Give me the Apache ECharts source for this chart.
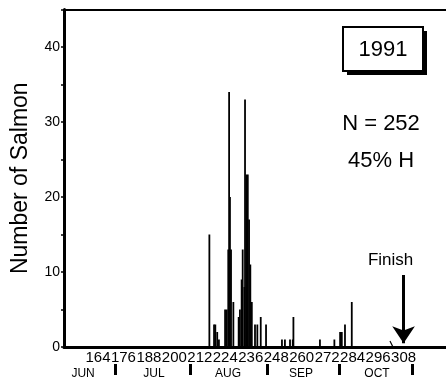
<!DOCTYPE html>
<html>
<head>
<meta charset="utf-8">
<script src="https://cdn.jsdelivr.net/npm/echarts@6/dist/echarts.min.js"></script>
<style>html,body{margin:0;padding:0;background:#fff}#c{width:446px;height:388px}</style>
</head>
<body>
<div id="c"></div>
<script>
// Day of year of each recorded pulse and number of salmon
const days = [216.5, 218.7, 219.3, 220.2, 221.0, 223.9, 224.7, 225.4, 225.8, 226.2, 226.7, 227.8, 230.3, 230.9, 231.7, 232.2, 233.0, 233.3, 233.9, 234.6, 235.2, 235.8, 236.5, 238.0, 239.1, 240.7, 243.2, 250.7, 252.1, 254.5, 255.8, 256.1, 268.6, 275.4, 278.1, 278.9, 280.4, 283.6];
const counts = [15, 3, 3, 2, 1, 5, 5, 13, 34, 20, 13, 6, 4, 5, 9, 13, 8, 33, 23, 23, 17, 11, 6, 3, 3, 4, 3, 1, 1, 1, 1, 4, 1, 1, 2, 2, 3, 6];
// small trailing trace near the finish
const tailDays = [301.6, 303.0];
const tailCounts = [0.8, 0];
// axis labels
const dayTicks = [164, 176, 188, 200, 212, 224, 236, 248, 260, 272, 284, 296, 308];
const monthNames = ['JUN', 'JUL', 'AUG', 'SEP', 'OCT'];
const monthLabelDays = [157, 190.4, 225.3, 259.7, 295.5];
const monthMarkDays = [172.0, 207.4, 243.7, 277.6, 312.0];
const yTicks = [0, 10, 20, 30, 40];
const finishDay = 308;
const finishTop = 9.6;
const finishBottom = 0.5;
const yearLabel = '1991';
const nLabel = 'N = 252';
const hLabel = '45% H';

const XMIN = 148, XMAX = 328;
const FONT = "'Liberation Sans', Arial, Helvetica, sans-serif";
const NARROW = "'Liberation Sans Narrow', 'Arial Narrow', 'Liberation Sans', sans-serif";

const chart = echarts.init(document.getElementById('c'), null, {renderer: 'canvas'});
chart.setOption({
  animation: false,
  backgroundColor: '#fff',
  grid: {left: 64, right: 0, top: 9.5, bottom: 41, containLabel: false},
  xAxis: [
    {
      type: 'value', min: XMIN, max: XMAX, position: 'bottom',
      splitLine: {show: false},
      axisLine: {show: true, lineStyle: {color: '#000', width: 3}},
      axisTick: {show: false},
      axisLabel: {customValues: dayTicks, color: '#000', fontFamily: NARROW, fontSize: 15, margin: 3}
    },
    {
      type: 'value', min: XMIN, max: XMAX, position: 'bottom', offset: 17,
      splitLine: {show: false},
      axisLine: {show: false},
      axisTick: {show: true, customValues: monthMarkDays, length: 11, lineStyle: {color: '#000', width: 3}},
      axisLabel: {
        customValues: monthLabelDays, color: '#000', fontFamily: FONT, fontSize: 12, margin: 4,
        formatter: function (v) { const i = monthLabelDays.indexOf(v); return i >= 0 ? monthNames[i] : ''; }
      }
    },
    {
      type: 'value', min: XMIN, max: XMAX, position: 'top',
      splitLine: {show: false},
      axisLine: {show: true, lineStyle: {color: '#000', width: 2}},
      axisTick: {show: false}, axisLabel: {show: false}
    }
  ],
  yAxis: {
    type: 'value', min: 0, max: 45, interval: 5,
    name: 'Number of Salmon', nameLocation: 'middle', nameGap: 32, nameRotate: 90,
    nameTextStyle: {color: '#000', fontFamily: FONT, fontSize: 23},
    splitLine: {show: false},
    axisLine: {show: true, lineStyle: {color: '#000', width: 3}},
    axisTick: {show: true, length: 3, lineStyle: {color: '#000', width: 1.5}},
    axisLabel: {
      color: '#000', fontFamily: FONT, fontSize: 14, margin: 4,
      formatter: function (v) { return yTicks.indexOf(v) >= 0 ? String(v) : ''; }
    }
  },
  series: [
    {
      type: 'bar', xAxisIndex: 0, barWidth: 1.8, barGap: '-100%',
      itemStyle: {color: '#000'},
      emphasis: {disabled: true},
      data: days.map((d, i) => [d, counts[i]]),
      markLine: {
        silent: true,
        symbol: ['none', 'arrow'], symbolSize: 17,
        lineStyle: {color: '#000', width: 3, type: 'solid'},
        label: {show: true, position: 'start', formatter: 'Finish', color: '#000', fontFamily: FONT, fontSize: 17, distance: 6, offset: [-13, 0]},
        data: [[{coord: [finishDay, finishTop]}, {coord: [finishDay, finishBottom]}]]
      }
    },
    {
      type: 'line', xAxisIndex: 0, symbol: 'none',
      lineStyle: {color: '#000', width: 1.2},
      emphasis: {disabled: true},
      data: tailDays.map((d, i) => [d, tailCounts[i]])
    }
  ],
  graphic: [
    {type: 'rect', shape: {x: 347, y: 31, width: 80, height: 44}, style: {fill: '#000'}},
    {type: 'rect', shape: {x: 343, y: 27, width: 80, height: 44}, style: {fill: '#fff', stroke: '#000', lineWidth: 2}},
    {type: 'text', x: 383, y: 50, style: {text: yearLabel, fill: '#000', font: '22px ' + FONT, textAlign: 'center', textVerticalAlign: 'middle'}},
    {type: 'text', x: 381, y: 124, style: {text: nLabel, fill: '#000', font: '22px ' + FONT, textAlign: 'center', textVerticalAlign: 'middle'}},
    {type: 'text', x: 381, y: 161, style: {text: hLabel, fill: '#000', font: '22px ' + FONT, textAlign: 'center', textVerticalAlign: 'middle'}}
  ]
});
</script>
</body>
</html>
